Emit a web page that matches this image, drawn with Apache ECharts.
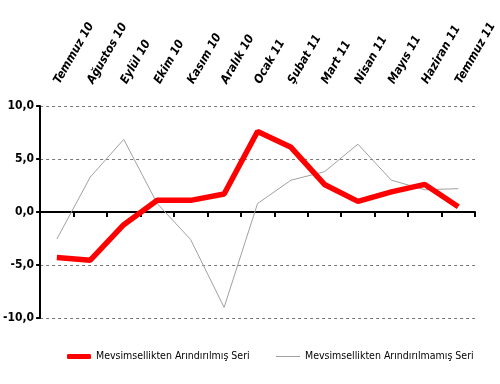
<!DOCTYPE html>
<html><head><meta charset="utf-8">
<script src="https://cdn.jsdelivr.net/npm/echarts@6/dist/echarts.min.js"></script>
<style>html,body{margin:0;padding:0;background:#fff}#c{width:500px;height:384px}</style>
</head><body><div id="c"></div>
<script>
const categories = ['Temmuz 10','Ağustos 10','Eylül 10','Ekim 10','Kasım 10','Aralık 10','Ocak 11','Şubat 11','Mart 11','Nisan 11','Mayıs 11','Haziran 11','Temmuz 11'];
const seasonallyAdjusted = [-4.3, -4.55, -1.2, 1.1, 1.1, 1.7, 7.6, 6.1, 2.6, 1.0, 1.9, 2.6, 0.5];
const notAdjusted = [-2.55, 3.3, 6.85, 0.8, -2.6, -9.0, 0.8, 3.0, 3.8, 6.4, 3.0, 2.1, 2.2];
const seriesNames = ['Mevsimsellikten Arındırılmış Seri', 'Mevsimsellikten Arındırılmamış Seri'];
const yMin = -10, yMax = 10, yStep = 5;

const chart = echarts.init(document.getElementById('c'));
const font = 'Liberation Sans Narrow, DejaVu Sans Condensed, Liberation Sans, sans-serif';
const legendText = { fontFamily: font, fontSize: 10.5, color: '#000' };
chart.setOption({
  animation: false,
  grid: { left: 36, right: 25, top: 106, bottom: 66 },
  legend: [{
    top: 346, left: 62, itemWidth: 24, itemHeight: 5, icon: 'roundRect',
    textStyle: legendText, data: [seriesNames[0]]
  }, {
    top: 346, left: 271, itemWidth: 24, itemHeight: 1, icon: 'rect',
    textStyle: legendText, data: [seriesNames[1]]
  }],
  xAxis: [{
    type: 'category', data: categories, boundaryGap: true,
    axisLine: { onZero: true, lineStyle: { color: '#000', width: 2 } },
    axisTick: { show: true, interval: 0, length: 5, lineStyle: { color: '#000', width: 2 } },
    axisLabel: { show: false }
  }, {
    type: 'category', data: categories, boundaryGap: true, position: 'top',
    axisLine: { show: false, onZero: false }, axisTick: { show: false },
    axisLabel: { interval: 0, rotate: -60, margin: 23, fontFamily: font, fontSize: 12, fontWeight: 'bold', fontStyle: 'italic', color: '#000' }
  }],
  yAxis: {
    type: 'value', min: yMin, max: yMax, interval: yStep,
    axisLine: { show: true, lineStyle: { color: '#000', width: 2 } },
    axisTick: { show: true, length: 4, lineStyle: { color: '#000', width: 2 } },
    splitLine: { lineStyle: { color: '#777', type: [3, 3], width: 1 } },
    axisLabel: { fontFamily: font, fontSize: 12, fontWeight: 'bold', color: '#000', margin: 6,
      formatter: v => v.toFixed(1).replace('.', ',') }
  },
  series: [{
    name: seriesNames[0], type: 'line', data: seasonallyAdjusted, symbol: 'none',
    lineStyle: { color: '#ff0000', width: 5.5 }, itemStyle: { color: '#ff0000' }, z: 3
  }, {
    name: seriesNames[1], type: 'line', data: notAdjusted, symbol: 'none',
    lineStyle: { color: '#a0a0a0', width: 1 }, itemStyle: { color: '#a0a0a0' }, z: 2
  }]
});
</script></body></html>
